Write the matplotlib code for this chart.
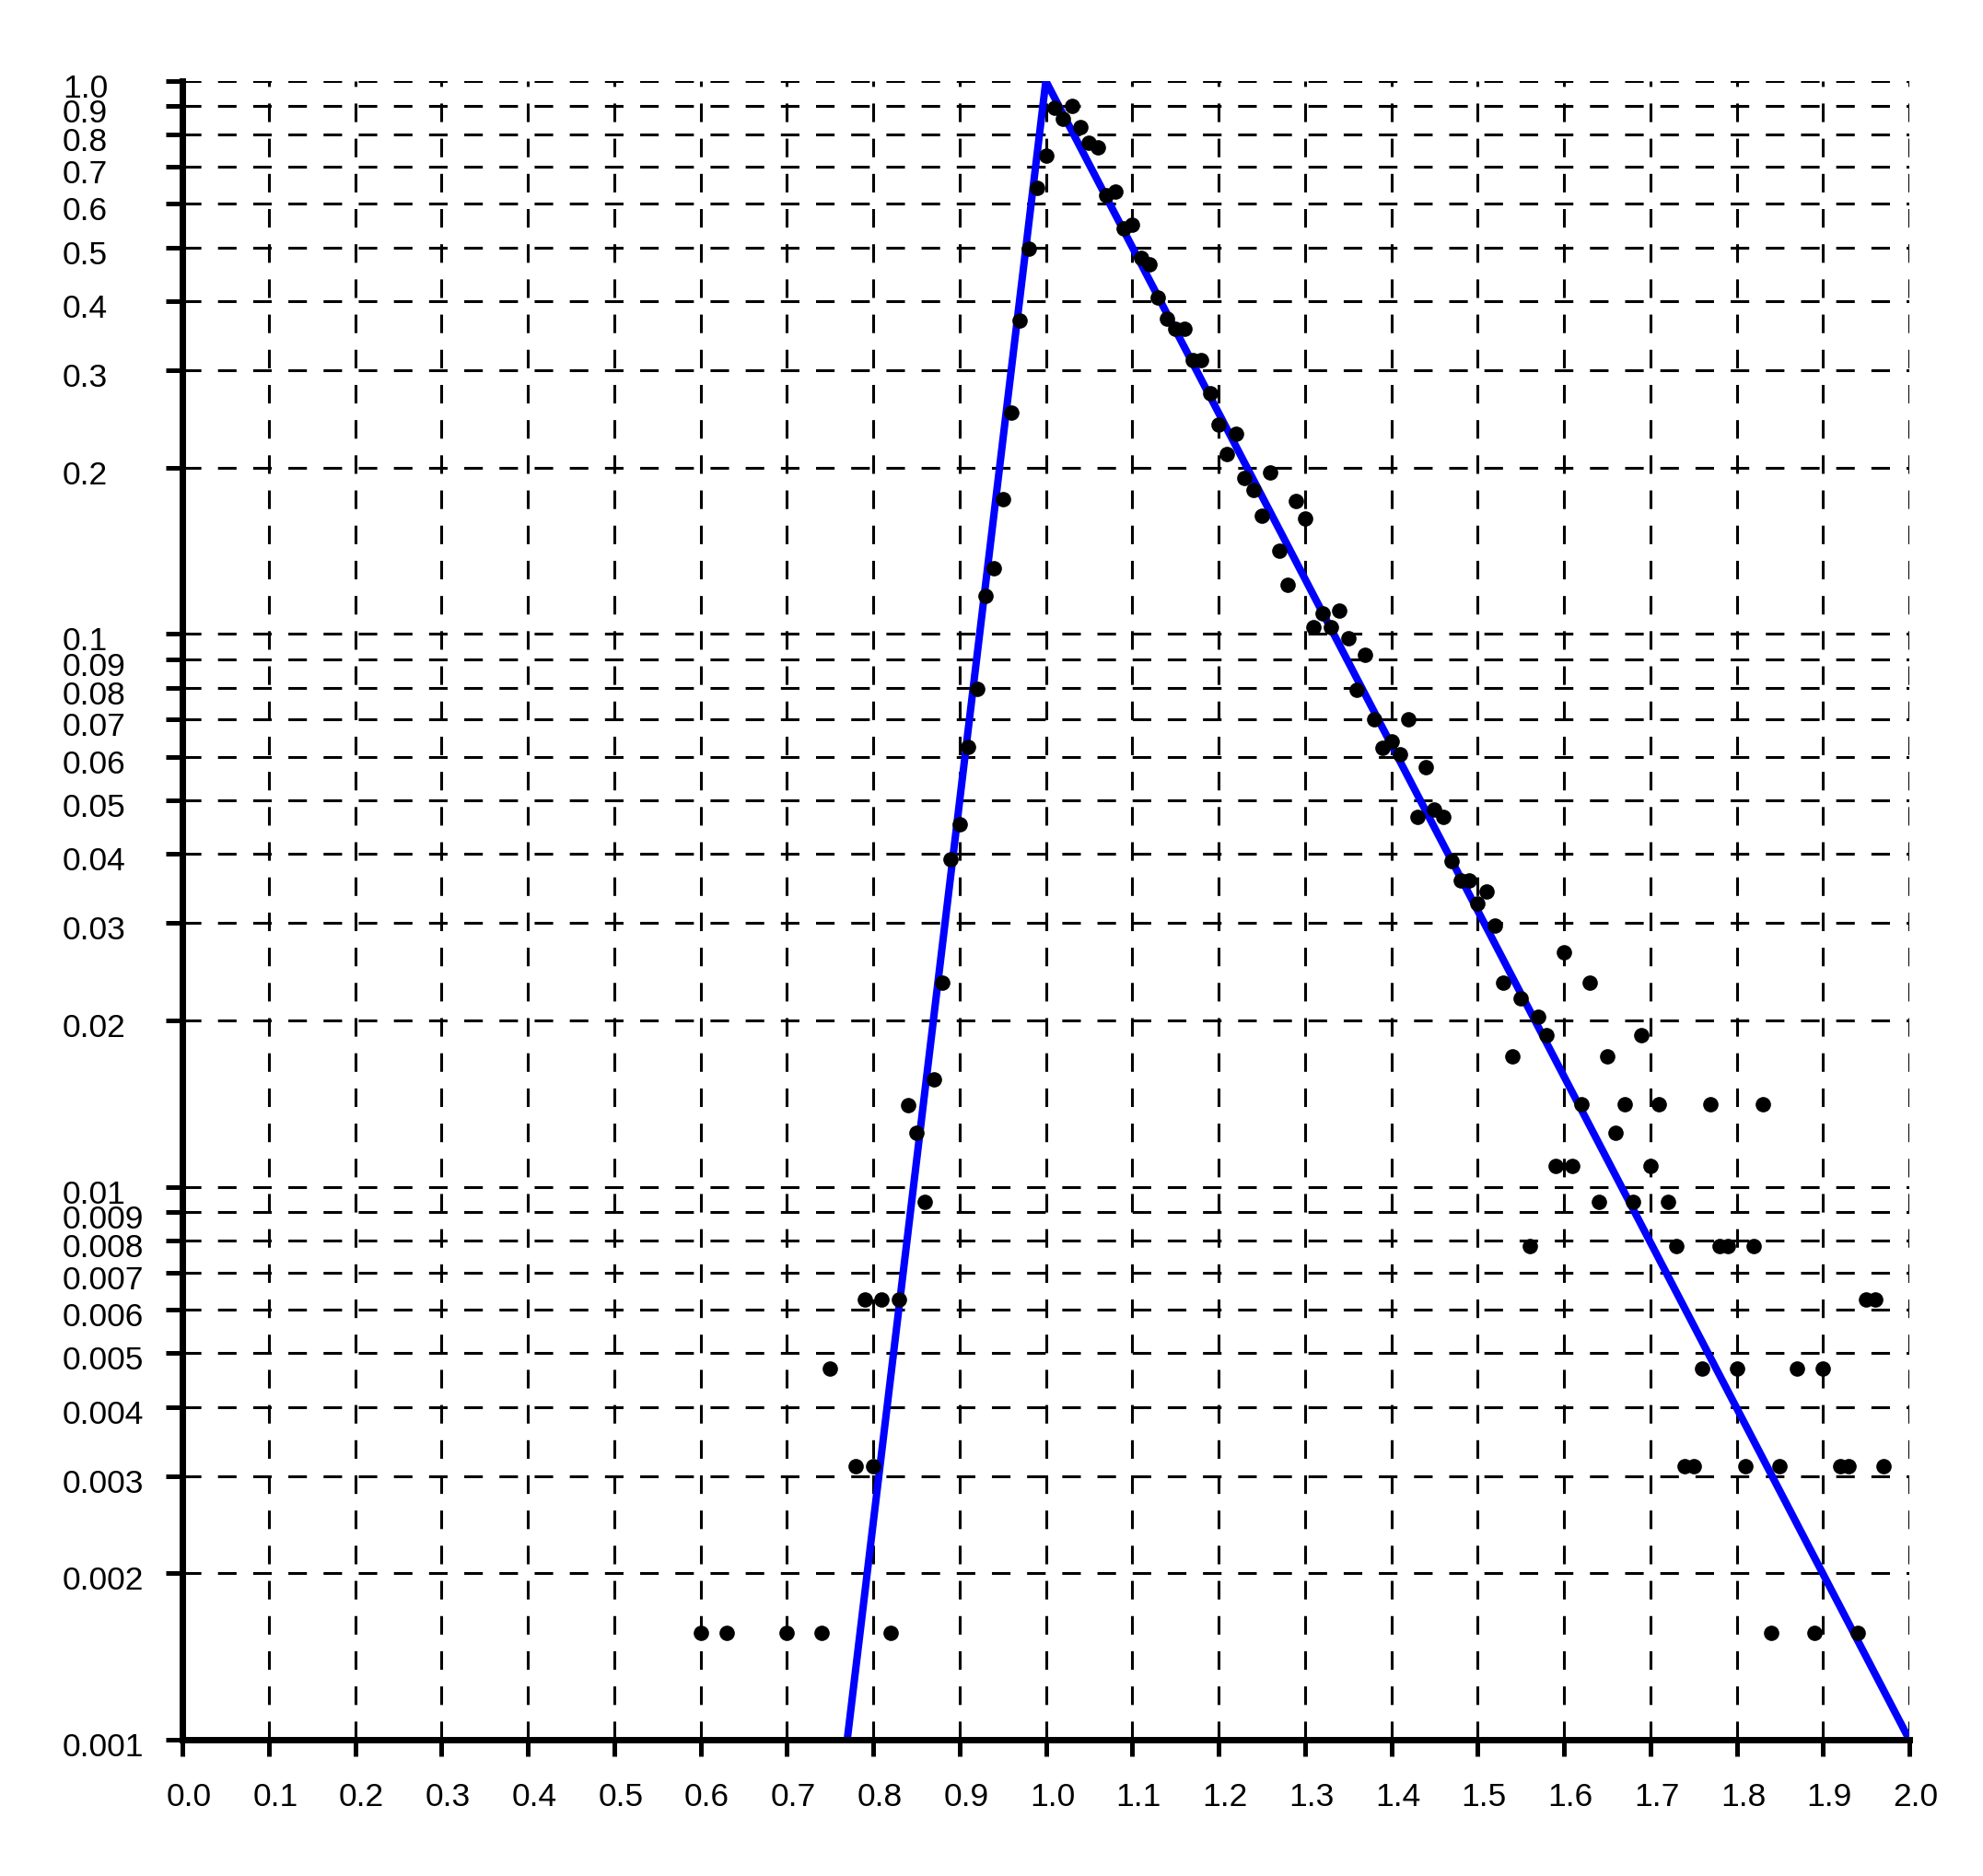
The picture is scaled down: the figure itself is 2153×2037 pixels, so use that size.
import matplotlib
matplotlib.use("Agg")
import matplotlib.pyplot as plt
from matplotlib.ticker import FixedLocator, NullLocator, FixedFormatter
from matplotlib.transforms import ScaledTranslation

plt.rcParams['font.family'] = ['Liberation Sans', 'DejaVu Sans']
plt.rcParams['lines.scale_dashes'] = False

# ---- data ----
x_values = [0.60, 0.63, 0.70, 0.74, 0.75, 0.78, 0.79, 0.80, 0.81, 0.82, 0.83, 0.84, 0.85, 0.86, 0.87,
            0.88, 0.89, 0.90, 0.91, 0.92, 0.93, 0.94, 0.95, 0.96, 0.97, 0.98, 0.99, 1.00, 1.01, 1.02,
            1.03, 1.04, 1.05, 1.06, 1.07, 1.08, 1.09, 1.10, 1.11, 1.12, 1.13, 1.14, 1.15, 1.16, 1.17,
            1.18, 1.19, 1.20, 1.21, 1.22, 1.23, 1.24, 1.25, 1.26, 1.27, 1.28, 1.29, 1.30, 1.31, 1.32,
            1.33, 1.34, 1.35, 1.36, 1.37, 1.38, 1.39, 1.40, 1.41, 1.42, 1.43, 1.44, 1.45, 1.46, 1.47,
            1.48, 1.49, 1.50, 1.51, 1.52, 1.53, 1.54, 1.55, 1.56, 1.57, 1.58, 1.59, 1.60, 1.61, 1.62,
            1.63, 1.64, 1.65, 1.66, 1.67, 1.68, 1.69, 1.70, 1.71, 1.72, 1.73, 1.74, 1.75, 1.76, 1.77,
            1.78, 1.79, 1.80, 1.81, 1.82, 1.83, 1.84, 1.85, 1.87, 1.89, 1.90, 1.92, 1.93, 1.94, 1.95,
            1.96, 1.97]
y_values = [0.00156, 0.00156, 0.00156, 0.00156, 0.00469, 0.00313, 0.00625, 0.00313, 0.00625, 0.00156,
            0.00625, 0.01406, 0.0125, 0.00938, 0.01563, 0.02344, 0.03906, 0.04531, 0.0625, 0.07969,
            0.1172, 0.1313, 0.1750, 0.2510, 0.369, 0.498, 0.640, 0.733, 0.894, 0.853,
            0.900, 0.824, 0.773, 0.759, 0.622, 0.631, 0.542, 0.549, 0.478, 0.466,
            0.406, 0.372, 0.357, 0.357, 0.313, 0.313, 0.2725, 0.2393, 0.2116, 0.2302,
            0.1918, 0.182, 0.1634, 0.196, 0.1414, 0.1227, 0.1742, 0.1618, 0.1027, 0.1089,
            0.1027, 0.1103, 0.0981, 0.0793, 0.0918, 0.0700, 0.0622, 0.0640, 0.0606, 0.0700,
            0.0467, 0.0575, 0.0482, 0.0467, 0.0388, 0.0358, 0.0358, 0.0326, 0.0342, 0.0297,
            0.0234, 0.0172, 0.0219, 0.00781, 0.0203, 0.0188, 0.0109, 0.0266, 0.0109, 0.0141,
            0.0234, 0.00938, 0.0172, 0.0125, 0.0141, 0.00938, 0.0188, 0.0109, 0.0141, 0.00938,
            0.00781, 0.00313, 0.00313, 0.00469, 0.0141, 0.00781, 0.00781, 0.00469, 0.00313, 0.00781,
            0.0141, 0.00156, 0.00313, 0.00469, 0.00156, 0.00469, 0.00313, 0.00313, 0.00156, 0.00625,
            0.00625, 0.00313]

line_x = [0.77, 1.0, 2.0]
line_y = [0.001, 1.0, 0.001]

x_ticks = [0.0, 0.1, 0.2, 0.3, 0.4, 0.5, 0.6, 0.7, 0.8, 0.9, 1.0, 1.1, 1.2, 1.3, 1.4, 1.5, 1.6, 1.7,
           1.8, 1.9, 2.0]
x_tick_labels = ["0.0", "0.1", "0.2", "0.3", "0.4", "0.5", "0.6", "0.7", "0.8", "0.9", "1.0", "1.1",
                 "1.2", "1.3", "1.4", "1.5", "1.6", "1.7", "1.8", "1.9", "2.0"]
y_ticks = [0.001, 0.002, 0.003, 0.004, 0.005, 0.006, 0.007, 0.008, 0.009,
           0.01, 0.02, 0.03, 0.04, 0.05, 0.06, 0.07, 0.08, 0.09,
           0.1, 0.2, 0.3, 0.4, 0.5, 0.6, 0.7, 0.8, 0.9, 1.0]
y_tick_labels = ["0.001", "0.002", "0.003", "0.004", "0.005", "0.006", "0.007", "0.008", "0.009",
                 "0.01", "0.02", "0.03", "0.04", "0.05", "0.06", "0.07", "0.08", "0.09",
                 "0.1", "0.2", "0.3", "0.4", "0.5", "0.6", "0.7", "0.8", "0.9", "1.0"]

# ---- figure ----
W, H, DPI = 2153, 2037, 100
fig = plt.figure(figsize=(W / DPI, H / DPI), dpi=DPI)
left_px, right_px, top_px, bottom_px = 198, 2073, 88, 1889
ax = fig.add_axes([left_px / W, 1 - bottom_px / H, (right_px - left_px) / W, (bottom_px - top_px) / H])

ax.set_yscale('log')
ax.set_xlim(0, 2)
ax.set_ylim(0.001, 1.0)

ax.xaxis.set_major_locator(FixedLocator(x_ticks))
ax.xaxis.set_major_formatter(FixedFormatter(x_tick_labels))
ax.xaxis.set_minor_locator(NullLocator())
ax.yaxis.set_major_locator(FixedLocator(y_ticks))
ax.yaxis.set_major_formatter(FixedFormatter(y_tick_labels))
ax.yaxis.set_minor_locator(NullLocator())

ax.grid(True, which='major', color='black', linewidth=2.2, linestyle=(0, (14.5, 13)))
ax.set_axisbelow(True)

for s in ['top', 'right']:
    ax.spines[s].set_visible(False)
for s in ['left', 'bottom']:
    ax.spines[s].set_linewidth(5.0)
    ax.spines[s].set_color('black')

ax.tick_params(axis='both', direction='out', length=13, width=3.6, colors='black', labelsize=25.5)
ax.tick_params(axis='x', pad=20)
ax.tick_params(axis='y', pad=80.6)

ax.plot(line_x, line_y, color='#0000ff', linewidth=5.8, solid_joinstyle='miter', zorder=2)
ax.plot(x_values, y_values, 'o', color='black', markersize=12, markeredgewidth=0, zorder=3)

fig.canvas.draw()
for lbl in ax.get_yticklabels():
    lbl.set_horizontalalignment('left')
    lbl.set_transform(lbl.get_transform() + ScaledTranslation(0, -5 / DPI, fig.dpi_scale_trans))
for lbl in ax.get_xticklabels():
    lbl.set_transform(lbl.get_transform() + ScaledTranslation(7 / DPI, 0, fig.dpi_scale_trans))

fig.savefig('out.png', dpi=DPI, facecolor='white')
